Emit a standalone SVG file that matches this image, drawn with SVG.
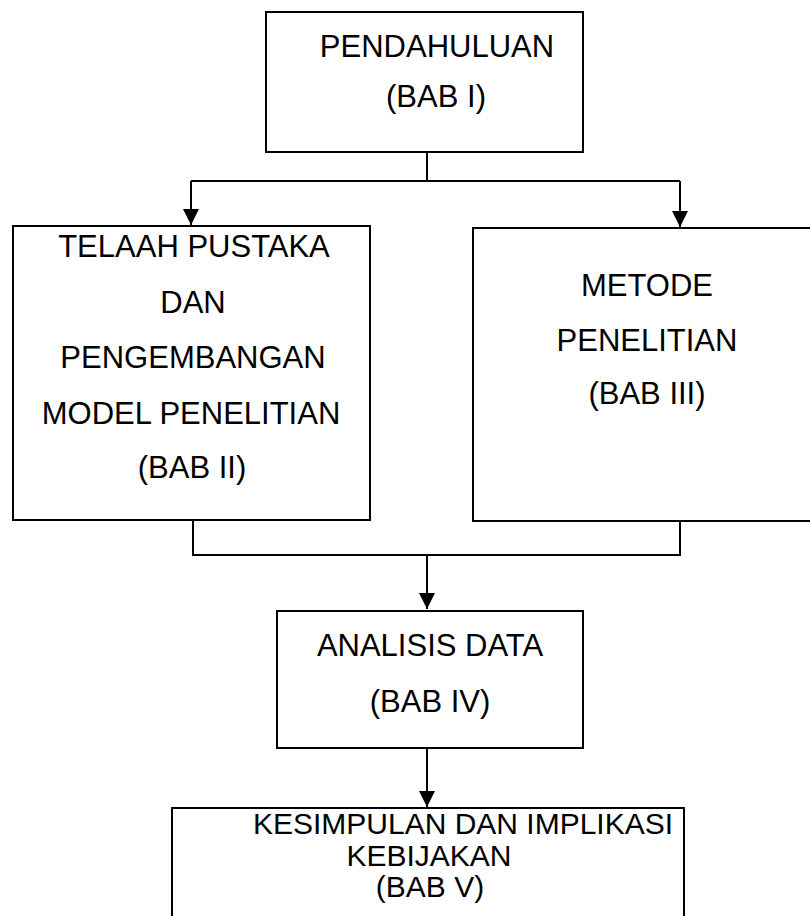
<svg xmlns="http://www.w3.org/2000/svg" width="810" height="916" viewBox="0 0 810 916">
<style>
.box{fill:#fff;stroke:#000;stroke-width:2}
.t{font-family:"Liberation Sans",Arial,sans-serif;font-size:31px;fill:#000;text-anchor:middle}
.t2{font-family:"Liberation Sans",Arial,sans-serif;font-size:30px;fill:#000;text-anchor:middle}
.c{fill:none;stroke:#000;stroke-width:2}
</style>
<defs>
<marker id="ah" markerUnits="userSpaceOnUse" markerWidth="18" markerHeight="18" viewBox="0 0 18 18" refX="17" refY="9" orient="auto">
<path d="M1,1 L17,9 L1,17 Z" fill="#000"/>
</marker>
</defs>
<rect width="810" height="916" fill="#fff"/>
<g id="connectors">
<path class="c" d="M427,152 V181"/>
<path class="c" d="M191,181 H680"/>
<path class="c" d="M191,181 V225" marker-end="url(#ah)"/>
<path class="c" d="M680,181 V227" marker-end="url(#ah)"/>
<path class="c" d="M193,520 V555 H680 V521"/>
<path class="c" d="M427,555 V609" marker-end="url(#ah)"/>
<path class="c" d="M427,748 V807" marker-end="url(#ah)"/>
</g>
<g id="node-bab1">
<rect class="box" x="266" y="12" width="317" height="140"/>
<text class="t" x="437" y="57">PENDAHULUAN</text>
<text class="t" x="436" y="107">(BAB I)</text>
</g>
<g id="node-bab2">
<rect class="box" x="13" y="226" width="357" height="294"/>
<text class="t" x="194" y="257">TELAAH PUSTAKA</text>
<text class="t" x="193" y="313">DAN</text>
<text class="t" x="193" y="368">PENGEMBANGAN</text>
<text class="t" x="191" y="424">MODEL PENELITIAN</text>
<text class="t" x="192" y="478">(BAB II)</text>
</g>
<g id="node-bab3">
<rect class="box" x="473" y="228" width="345" height="293"/>
<text class="t" x="647" y="296">METODE</text>
<text class="t" x="647" y="351">PENELITIAN</text>
<text class="t" x="647" y="404">(BAB III)</text>
</g>
<g id="node-bab4">
<rect class="box" x="277" y="611" width="306" height="137"/>
<text class="t" x="430" y="656">ANALISIS DATA</text>
<text class="t" x="430" y="712">(BAB IV)</text>
</g>
<g id="node-bab5">
<rect class="box" x="172" y="808" width="512" height="120"/>
<text class="t2" x="463" y="834">KESIMPULAN DAN IMPLIKASI</text>
<text class="t2" x="429" y="866">KEBIJAKAN</text>
<text class="t2" x="430" y="897">(BAB V)</text>
</g>
</svg>
